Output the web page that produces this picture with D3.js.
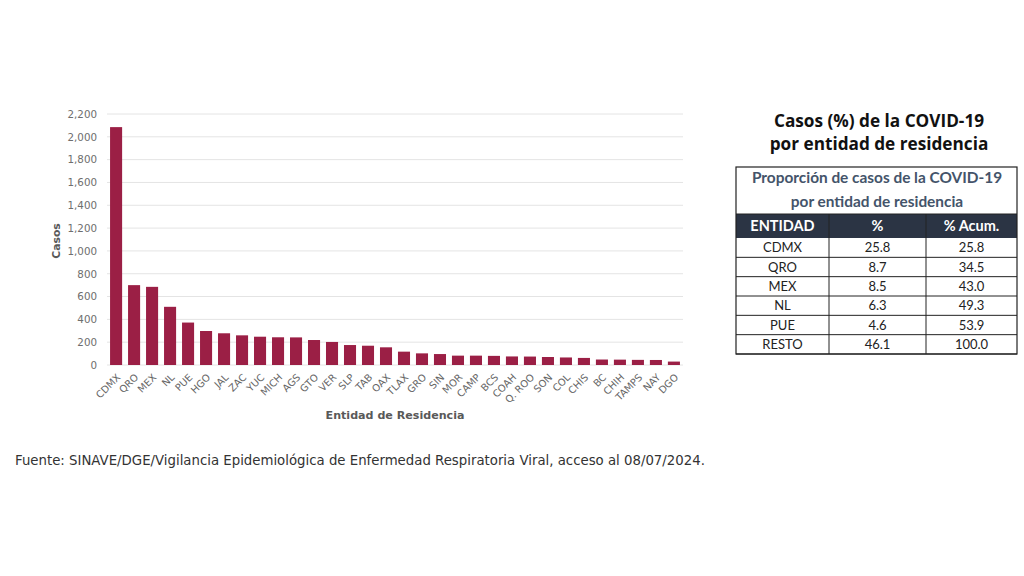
<!DOCTYPE html>
<html><head><meta charset="utf-8">
<script src="https://cdn.jsdelivr.net/npm/d3@7"></script>
<style>body{margin:0;background:#fff}svg{display:block}</style>
</head><body>
<svg id="c" width="1024" height="576"></svg>
<script>
const categories = ["CDMX","QRO","MEX","NL","PUE","HGO","JAL","ZAC","YUC","MICH","AGS","GTO","VER","SLP","TAB","OAX","TLAX","GRO","SIN","MOR","CAMP","BCS","COAH","Q. ROO","SON","COL","CHIS","BC","CHIH","TAMPS","NAY","DGO"];
const casos = [2085,700,685,510,372,298,278,260,248,243,242,219,202,175,169,155,117,102,96,82,82,80,75,74,70,66,62,48,47,45,44,30];
const yTicks = [0,200,400,600,800,1000,1200,1400,1600,1800,2000,2200];
const tablaEntidad = ["CDMX","QRO","MEX","NL","PUE","RESTO"];
const tablaPct = ["25.8","8.7","8.5","6.3","4.6","46.1"];
const tablaAcum = ["25.8","34.5","43.0","49.3","53.9","100.0"];
const tablaHeader = ["ENTIDAD","%","% Acum."];

const svg = d3.select("#c");
svg.append("rect").attr("width",1024).attr("height",576).attr("fill","#fff");
const chartFont = "'DejaVu Sans', sans-serif";
const x = d3.scaleBand().domain(categories).range([107,683]).paddingInner(0.33).paddingOuter(0.17);
const y = d3.scaleLinear().domain([0,2200]).range([365,114]);

// grid
svg.append("g").selectAll("line").data(yTicks).join("line")
  .attr("x1",107).attr("x2",683).attr("y1",d=>y(d)).attr("y2",d=>y(d))
  .attr("stroke","#e4e4e4").attr("stroke-width",1);

// y axis
const yAxis = svg.append("g").attr("transform","translate(107,0)")
  .call(d3.axisLeft(y).tickValues(yTicks).tickFormat(d3.format(",")).tickSize(0).tickPadding(10));
yAxis.select(".domain").remove();
yAxis.selectAll("text").attr("font-family",chartFont).attr("font-size",10.3).attr("fill","#6e6e6e");

// bars
svg.append("g").selectAll("rect").data(categories).join("rect")
  .attr("x",d=>x(d)).attr("width",x.bandwidth())
  .attr("y",(d,i)=>y(casos[i])).attr("height",(d,i)=>y(0)-y(casos[i]))
  .attr("fill","#9b1f45");

// x axis
const xAxis = svg.append("g").attr("transform","translate(0,365)")
  .call(d3.axisBottom(x).tickSize(0).tickPadding(0));
xAxis.select(".domain").remove();
xAxis.selectAll("text").attr("font-family",chartFont).attr("font-size",9.9).attr("fill","#666")
  .attr("text-anchor","end").attr("dy",0)
  .attr("transform","translate(5,13) rotate(-45)");

svg.append("text").attr("transform","translate(60,241) rotate(-90)")
  .attr("text-anchor","middle").attr("font-family",chartFont).attr("font-weight","bold")
  .attr("font-size",10.8).attr("fill","#595959").text("Casos");
svg.append("text").attr("x",395).attr("y",419)
  .attr("text-anchor","middle").attr("font-family",chartFont).attr("font-weight","bold")
  .attr("font-size",11.1).attr("fill","#595959").text("Entidad de Residencia");

svg.append("text").attr("x",15).attr("y",465)
  .attr("font-family",chartFont).attr("font-size",13.3).attr("fill","#333")
  .text("Fuente: SINAVE/DGE/Vigilancia Epidemiológica de Enfermedad Respiratoria Viral, acceso al 08/07/2024.");

// table title
const tf = "Lato, 'Open Sans', sans-serif";
const titleFont = "'Open Sans', sans-serif";
svg.append("text").attr("x",879).attr("y",127).attr("text-anchor","middle")
  .attr("font-family",titleFont).attr("font-weight","bold").attr("font-size",17.2).attr("fill","#111")
  .text("Casos (%) de la COVID-19");
svg.append("text").attr("x",879).attr("y",150).attr("text-anchor","middle")
  .attr("font-family",titleFont).attr("font-weight","bold").attr("font-size",17.2).attr("fill","#111")
  .text("por entidad de residencia");

// table
const colX = [736,829,926,1017];
const top0 = 167, headTop = 214, headBot = 238, bot = 354;
const rowH = (bot-headBot)/tablaEntidad.length;
const t = svg.append("g");
t.append("rect").attr("x",colX[0]).attr("y",headTop).attr("width",colX[3]-colX[0]).attr("height",headBot-headTop).attr("fill","#2b3444");
t.append("text").attr("x",877).attr("y",183).attr("text-anchor","middle").attr("font-family",tf)
  .attr("font-weight","bold").attr("font-size",15.4).attr("fill","#44546a").text("Proporción de casos de la COVID-19");
t.append("text").attr("x",877).attr("y",207).attr("text-anchor","middle").attr("font-family",tf)
  .attr("font-weight","bold").attr("font-size",15.4).attr("fill","#44546a").text("por entidad de residencia");
tablaHeader.forEach((h,i)=>{
  t.append("text").attr("x",(colX[i]+colX[i+1])/2).attr("y",231).attr("text-anchor","middle")
    .attr("font-family",tf).attr("font-weight","bold").attr("font-size",14.5).attr("fill","#fff").text(h);
});
const cols = [tablaEntidad,tablaPct,tablaAcum];
tablaEntidad.forEach((e,r)=>{
  const yy = headBot + rowH*r;
  cols.forEach((c,ci)=>{
    t.append("text").attr("x",(colX[ci]+colX[ci+1])/2).attr("y",yy+rowH/2+4.5).attr("text-anchor","middle")
      .attr("font-family",tf).attr("font-size",13).attr("fill","#222").text(c[r]);
  });
  t.append("line").attr("x1",colX[0]).attr("x2",colX[3]).attr("y1",yy+rowH).attr("y2",yy+rowH).attr("stroke","#222").attr("stroke-width",1);
});
// borders
t.append("rect").attr("x",colX[0]).attr("y",top0).attr("width",colX[3]-colX[0]).attr("height",bot-top0)
  .attr("fill","none").attr("stroke","#222").attr("stroke-width",1.2);
[1,2].forEach(i=>t.append("line").attr("x1",colX[i]).attr("x2",colX[i]).attr("y1",headTop).attr("y2",bot).attr("stroke","#222").attr("stroke-width",1));
t.append("line").attr("x1",colX[0]).attr("x2",colX[3]).attr("y1",headTop).attr("y2",headTop).attr("stroke","#222");
</script>
</body></html>
